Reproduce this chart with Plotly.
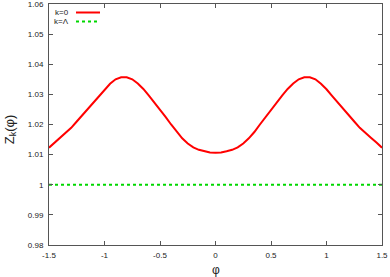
import plotly.graph_objects as go

phi_half = [-1.5, -1.45, -1.4, -1.35, -1.3, -1.25, -1.2, -1.15, -1.1, -1.05, -1.0, -0.95, -0.9,
            -0.85, -0.8, -0.75, -0.7, -0.65, -0.6, -0.55, -0.5, -0.45, -0.4, -0.35, -0.3, -0.25,
            -0.2, -0.15, -0.1, -0.05]
z_half = [1.0123, 1.0140, 1.0156, 1.0171, 1.0189, 1.0210, 1.0231, 1.0252, 1.0273, 1.0295,
          1.0317, 1.0335, 1.0350, 1.0357, 1.0357, 1.0350, 1.0336, 1.0318, 1.0296, 1.0273,
          1.0249, 1.0225, 1.0200, 1.0175, 1.0154, 1.0137, 1.0124, 1.0116, 1.0111, 1.0107]
phi = phi_half + [0.0] + [-p for p in phi_half[::-1]]
z_k0 = z_half + [1.0106] + z_half[::-1]
z_kL = [1.0] * len(phi)

x_ticks = [-1.5, -1, -0.5, 0, 0.5, 1, 1.5]
x_tick_text = ["-1.5", "-1", "-0.5", "0", "0.5", "1", "1.5"]
y_ticks = [0.98, 0.99, 1.0, 1.01, 1.02, 1.03, 1.04, 1.05, 1.06]
y_tick_text = ["0.98", "0.99", "1", "1.01", "1.02", "1.03", "1.04", "1.05", "1.06"]
legend_labels = ["k=0", "k=Λ"]
x_title = "φ"
y_title = "Z<sub>k</sub>(φ)"
red = "#ff0000"
green = "rgb(0,215,0)"
FAM = "Liberation Sans, Arial, sans-serif"

fig = go.Figure()
fig.add_trace(go.Scatter(x=phi, y=z_k0, mode="lines", line=dict(color=red, width=2), showlegend=False))
fig.add_trace(go.Scatter(x=phi, y=z_kL, mode="lines", line=dict(color=green, width=2, dash="dot"), showlegend=False))

font = dict(family=FAM, size=8, color="#222")
axis_common = dict(showgrid=False, zeroline=False, showline=True, linecolor="#555", linewidth=1,
                   mirror="allticks", ticks="inside", ticklen=4, tickcolor="#555", tickfont=font,
                   automargin=False, ticklabeloverflow="allow")

fig.update_layout(
    width=390, height=277,
    margin=dict(l=49, r=8, t=4, b=32),
    paper_bgcolor="white", plot_bgcolor="white",
    xaxis=dict(range=[-1.5, 1.5], tickvals=x_ticks, ticktext=x_tick_text, ticklabelstandoff=2, **axis_common),
    yaxis=dict(range=[0.97999, 1.06001], tickvals=y_ticks, ticktext=y_tick_text, ticklabelstandoff=3, **axis_common),
)

W, H = 333.0, 241.0
fig.add_annotation(x=0.5, y=(245 - 270) / H, xref="paper", yref="paper", text=x_title, showarrow=False,
                   xanchor="center", yanchor="middle", font=dict(family=FAM, size=12, color="#222"))
fig.add_annotation(x=(10 - 49) / W, y=0.48, xref="paper", yref="paper", text=y_title, showarrow=False,
                   textangle=-90, xanchor="center", yanchor="middle", font=dict(family=FAM, size=13, color="#222"))

# gnuplot-style legend: text then line sample
rows = [(12.5, red, "solid"), (21.5, green, "dot")]
for (py, col, dash), lab in zip(rows, legend_labels):
    yp = (245 - py) / H
    fig.add_annotation(x=(71 - 49) / W, y=yp, xref="paper", yref="paper", text=lab, showarrow=False,
                       xanchor="right", yanchor="middle", font=dict(family=FAM, size=8, color="#222"))
    fig.add_shape(type="line", xref="paper", yref="paper", x0=(76 - 49) / W, x1=(100 - 49) / W, y0=yp, y1=yp,
                  line=dict(color=col, width=2, dash=dash))

fig.write_html("out.html", config={"displayModeBar": False},
               post_script="document.body.style.margin='0px';document.body.style.overflow='hidden';")
